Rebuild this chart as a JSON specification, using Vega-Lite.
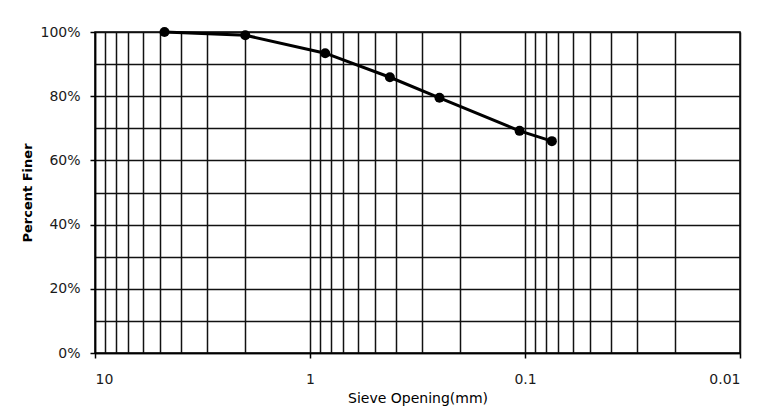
{
  "$schema": "https://vega.github.io/schema/vega-lite/v6.json",
  "autosize": "none",
  "width": 645,
  "height": 321,
  "padding": {"left": 95, "top": 32, "right": 24, "bottom": 66},
  "background": "white",
  "config": {
    "view": {"stroke": "#000000", "strokeWidth": 1.5},
    "font": "DejaVu Sans",
    "axis": {
      "labelFont": "DejaVu Sans",
      "titleFont": "DejaVu Sans",
      "labelColor": "#1a1a1a",
      "titleColor": "#000000",
      "labelFontSize": 14,
      "titleFontSize": 14,
      "gridColor": "#111111",
      "gridOpacity": 1,
      "gridWidth": 1.5,
      "domainColor": "#000000",
      "domainWidth": 1.5,
      "tickColor": "#000000",
      "tickWidth": 1.5
    }
  },
  "data": {
    "values": [
      {"opening": 4.75, "finer": 1.0},
      {"opening": 2.0, "finer": 0.99},
      {"opening": 0.85, "finer": 0.934},
      {"opening": 0.425, "finer": 0.859},
      {"opening": 0.25, "finer": 0.795},
      {"opening": 0.106, "finer": 0.692},
      {"opening": 0.075, "finer": 0.66}
    ]
  },
  "encoding": {
    "x": {
      "field": "opening",
      "type": "quantitative",
      "scale": {"type": "log", "domain": [0.01, 10], "reverse": true, "nice": false},
      "axis": {
        "title": "Sieve Opening(mm)",
        "titleFontWeight": "normal",
        "titlePadding": 5,
        "values": [10, 9, 8, 7, 6, 5, 4, 3, 2, 1, 0.9, 0.8, 0.7, 0.6, 0.5, 0.4, 0.3, 0.2, 0.1, 0.09, 0.08, 0.07, 0.06, 0.05, 0.04, 0.03, 0.02, 0.01],
        "format": "~g",
        "labelExpr": "abs(log(datum.value)/LN10 - round(log(datum.value)/LN10)) < 1e-6 ? datum.label : ''",
        "labelOverlap": false,
        "labelPadding": 14,
        "tickSize": 5,
        "tickOpacity": {"condition": {"test": "abs(log(datum.value)/LN10 - round(log(datum.value)/LN10)) < 1e-6", "value": 1}, "value": 0}
      }
    },
    "y": {
      "field": "finer",
      "type": "quantitative",
      "scale": {"domain": [0, 1], "nice": false},
      "axis": {
        "title": "Percent Finer",
        "titleFontWeight": "bold",
        "titleFontSize": 13,
        "titlePadding": 5,
        "values": [0, 0.1, 0.2, 0.3, 0.4, 0.5, 0.6, 0.7, 0.8, 0.9, 1],
        "format": ".0%",
        "labelExpr": "round(datum.value*100) % 20 == 0 ? datum.label : ''",
        "labelOverlap": false,
        "labelPadding": 10,
        "tickSize": 5,
        "tickOpacity": {"condition": {"test": "round(datum.value*100) % 20 == 0", "value": 1}, "value": 0}
      }
    }
  },
  "layer": [
    {"mark": {"type": "line", "color": "#000000", "strokeWidth": 3}},
    {"mark": {"type": "point", "filled": true, "color": "#000000", "opacity": 1, "size": 100}}
  ]
}
